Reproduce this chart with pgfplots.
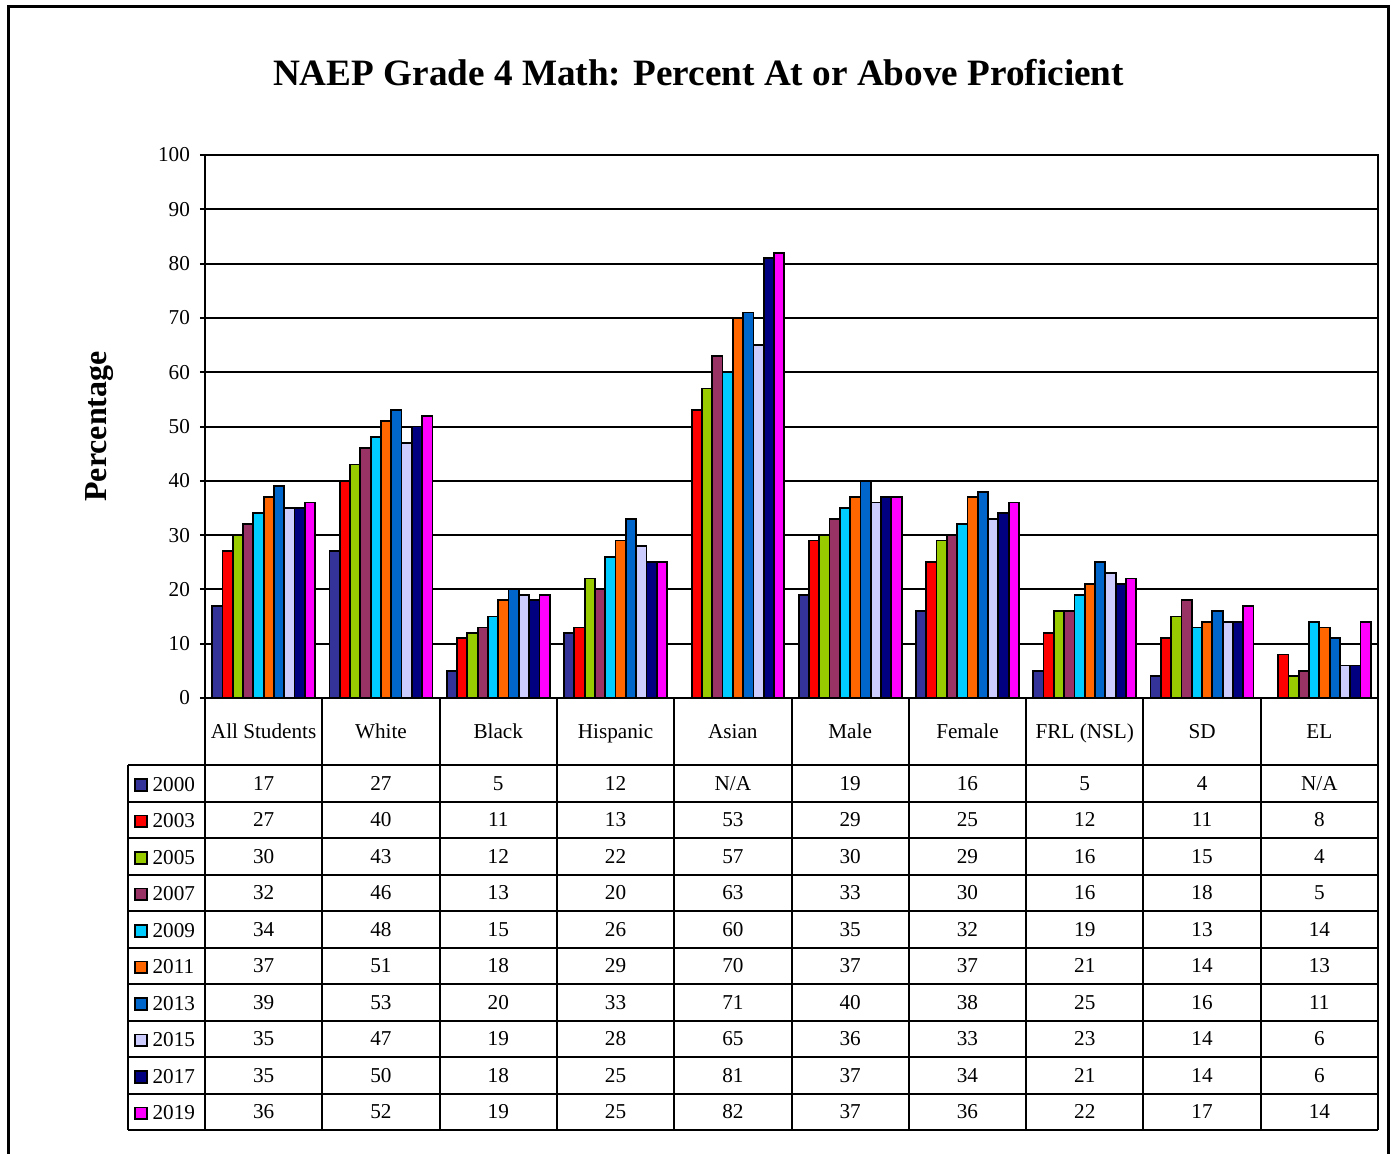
\documentclass[border=0pt]{standalone}
\usepackage{fontspec}
\setmainfont{Liberation Serif}
\usepackage{pgfplots}
\usepackage{pgfplotstable}
\pgfplotsset{compat=1.18}
\definecolor{c2000}{HTML}{333399}
\definecolor{c2003}{HTML}{FF0000}
\definecolor{c2005}{HTML}{99CC00}
\definecolor{c2007}{HTML}{993366}
\definecolor{c2009}{HTML}{00CCFF}
\definecolor{c2011}{HTML}{FF6600}
\definecolor{c2013}{HTML}{0066CC}
\definecolor{c2015}{HTML}{CCCCFF}
\definecolor{c2017}{HTML}{000080}
\definecolor{c2019}{HTML}{FF00FF}
\newcommand{\fs}{\fontsize{10.6}{12.7}\selectfont}
\pgfplotstableread{
x name a2000 l2000 a2003 a2005 a2007 a2009 a2011 a2013 a2015 a2017 a2019
0 {All Students} 17 17 27 30 32 34 37 39 35 35 36
1 White 27 27 40 43 46 48 51 53 47 50 52
2 Black 5 5 11 12 13 15 18 20 19 18 19
3 Hispanic 12 12 13 22 20 26 29 33 28 25 25
4 Asian nan N/A 53 57 63 60 70 71 65 81 82
5 Male 19 19 29 30 33 35 37 40 36 37 37
6 Female 16 16 25 29 30 32 37 38 33 34 36
7 {FRL (NSL)} 5 5 12 16 16 19 21 25 23 21 22
8 SD 4 4 11 15 18 13 14 16 14 14 17
9 EL nan N/A 8 4 5 14 13 11 6 6 14
}\data
\begin{document}
\begin{tikzpicture}
\useasboundingbox (0,0) rectangle (695.5pt,-577pt);
% frame
\draw[line width=1.5pt] (4.3pt,-600pt) -- (4.3pt,-3.3pt) -- (694.2pt,-3.3pt) -- (694.2pt,-600pt);
\node[font=\bfseries\fontsize{18.6}{22}\selectfont] at (349.25pt,-36.25pt) {NAEP Grade 4 Math: Percent At or Above Proficient};
\begin{axis}[
  scale only axis, width=586.5pt, height=271.5pt,
  at={(102.5pt,-349pt)}, anchor=south west,
  xmin=-0.5, xmax=9.5, ymin=0, ymax=100,
  xtick=\empty, ytick={0,10,...,100}, ytick pos=left,
  tick align=outside, major tick length=2.5pt,
  tick style={black, line width=1pt},
  axis line style={line width=1.1pt},
  ymajorgrids, grid style={black, line width=1pt},
  /pgf/number format/assume math mode=true,
  yticklabel style={font=\fs, xshift=-1.5pt},
  ylabel={Percentage},
  every axis y label/.style={at={(rel axis cs:0,0.5)}, xshift=-52.75pt, rotate=90, anchor=center, font=\bfseries\fontsize{16}{19}\selectfont},
  ybar=0pt, bar width=5.15pt,
  every axis plot/.append style={draw=black, line width=0.9pt},
  legend image code/.code={\draw[#1, draw=black, line width=0.8pt] (0pt,-2.6pt) rectangle (5.8pt,3.2pt);},
  legend cell align=left,
  legend style={at={(-0.0605,-0.1268)}, anchor=north west, draw=none, fill=none,
    inner sep=0pt, row sep=0pt, column sep=1.5pt, font=\fs,
    nodes={inner sep=1pt, minimum height=18.25pt}},
]
\addplot[fill=c2000] table[x=x,y=a2000]{\data};
\addplot[fill=c2003] table[x=x,y=a2003]{\data};
\addplot[fill=c2005] table[x=x,y=a2005]{\data};
\addplot[fill=c2007] table[x=x,y=a2007]{\data};
\addplot[fill=c2009] table[x=x,y=a2009]{\data};
\addplot[fill=c2011] table[x=x,y=a2011]{\data};
\addplot[fill=c2013] table[x=x,y=a2013]{\data};
\addplot[fill=c2015] table[x=x,y=a2015]{\data};
\addplot[fill=c2017] table[x=x,y=a2017]{\data};
\addplot[fill=c2019] table[x=x,y=a2019]{\data};
\legend{2000,2003,2005,2007,2009,2011,2013,2015,2017,2019}
\end{axis}
\begin{axis}[
  scale only axis, width=586.5pt, height=216pt,
  at={(102.5pt,-349pt)}, anchor=north west,
  xmin=-0.5, xmax=9.5, ymin=-1130, ymax=-698,
  hide axis, clip=false,
  cycle list={{draw=none, mark=none}},
  every axis plot/.append style={draw=none, mark=none, nodes near coords, point meta=explicit symbolic},
  every node near coord/.append style={anchor=center, font=\fs, text=black, text height=0.7em, text depth=0pt},
]
\addplot table[x=x, y expr=-731, meta=name]{\data};
\addplot table[x=x, y expr=-783, meta=l2000]{\data};
\addplot table[x=x, y expr=-819.5, meta=a2003]{\data};
\addplot table[x=x, y expr=-856, meta=a2005]{\data};
\addplot table[x=x, y expr=-892.5, meta=a2007]{\data};
\addplot table[x=x, y expr=-929, meta=a2009]{\data};
\addplot table[x=x, y expr=-965.5, meta=a2011]{\data};
\addplot table[x=x, y expr=-1002, meta=a2013]{\data};
\addplot table[x=x, y expr=-1038.5, meta=a2015]{\data};
\addplot table[x=x, y expr=-1075, meta=a2017]{\data};
\addplot table[x=x, y expr=-1111.5, meta=a2019]{\data};
\end{axis}
% data table grid
\foreach \k in {0,...,10} {
  \draw[line width=1pt] (64pt,{-(765+36.5*\k)*0.5pt}) -- (689pt,{-(765+36.5*\k)*0.5pt});
}
\foreach \i in {0,...,10} {
  \draw[line width=1pt] ({(205+117.3*\i)*0.5pt},-349pt) -- ({(205+117.3*\i)*0.5pt},-565pt);
}
\draw[line width=1pt] (64pt,-382.5pt) -- (64pt,-565pt);
\end{tikzpicture}
\end{document}
